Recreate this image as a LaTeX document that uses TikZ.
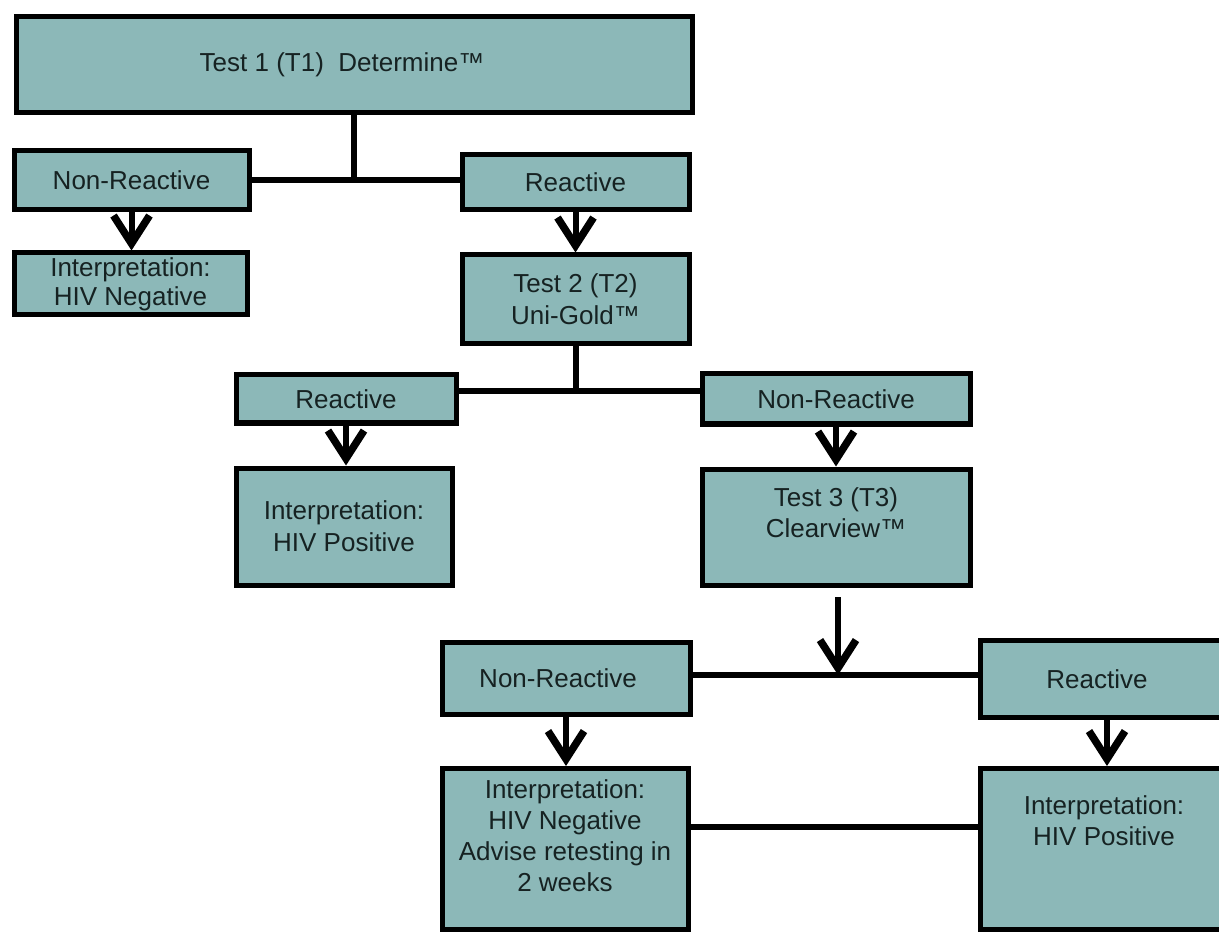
\documentclass[tikz,border=0pt]{standalone}
\usepackage{fontspec}
\setmainfont{Liberation Sans}
\usetikzlibrary{arrows.meta}
\definecolor{boxfill}{RGB}{140,184,184}
\definecolor{ink}{RGB}{22,34,34}
\begin{document}
\begin{tikzpicture}[x=1pt,y=-1pt,
  box/.style={draw=black, line width=5pt, fill=boxfill, align=center, inner sep=0pt,
    font=\fontsize{26}{32}\selectfont, text=ink},
  txt/.style={align=center, inner sep=0pt, font=\fontsize{26}{31}\selectfont, text=ink},
  conn/.style={line width=6pt},
  arr/.style={line width=6pt, -{Straight Barb[length=28pt,width=36pt,line width=7.5pt]}}]
\useasboundingbox (0,0) rectangle (1219,933);
\clip (0,0) rectangle (1219,933);
\fill[white] (0,0) rectangle (1219,933);

\node[box, minimum width=676pt, minimum height=96pt] (t1) at (354,65) {Test 1 (T1)\ \ Determine™\hspace*{24pt}};
\node[box, minimum width=235pt, minimum height=59pt] (nr1) at (131.5,180.5) {Non-Reactive};
\node[box, minimum width=227pt, minimum height=55pt] (r1) at (575.5,182.5) {Reactive};
\node[box, minimum width=233pt, minimum height=62pt, font=\fontsize{26}{29}\selectfont] (i1) at (130.5,284) {Interpretation:\\HIV Negative};
\node[box, minimum width=227pt, minimum height=89pt] (t2) at (575.5,299.5) {Test 2 (T2)\\Uni-Gold™};
\node[box, minimum width=220pt, minimum height=48pt] (r2) at (346,399) {Reactive};
\node[box, minimum width=268pt, minimum height=50pt] (nr2) at (836,399) {Non-Reactive};
\node[box, minimum width=216pt, minimum height=117pt] (i2) at (344,526.5) {Interpretation:\\HIV Positive};
\node[box, minimum width=268pt, minimum height=116pt] (t3) at (836,527) {};
\node[txt] (t3t) at (836,513) {Test 3 (T3)\\Clearview™};
\node[box, minimum width=248pt, minimum height=72pt] (nr3) at (566,678) {Non-Reactive\hspace*{16pt}};
\node[box, minimum width=243pt, minimum height=77pt] (r3) at (1102,679) {Reactive\hspace*{10pt}};
\node[box, minimum width=246pt, minimum height=161pt] (i3n) at (565,849) {};
\node[txt] (i3nt) at (565,836) {Interpretation:\\HIV Negative\\Advise retesting in\\2 weeks};
\node[box, minimum width=243pt, minimum height=161pt] (i3r) at (1102,849) {};
\node[txt] (i3rt) at (1104,821) {Interpretation:\\HIV Positive};

\coordinate (t3a) at (838,597);
\coordinate (r3a) at (1107,720);
\coordinate (j2) at ([yshift=8pt]r2.east);
\coordinate (j3) at ([yshift=3pt]nr3.east);
\coordinate (j4) at ([yshift=22pt]i3n.east);

% level 1
\draw[conn] (t1.south) -- (t1.south |- nr1.east);
\draw[conn] (nr1.east) -- (nr1.east -| r1.west);
\draw[arr] (nr1.south) -- (nr1.south |- i1.north);
\draw[arr] (r1.south) -- (r1.south |- t2.north);
% level 2
\draw[conn] (t2.south) -- (t2.south |- j2);
\draw[conn] (j2) -- (j2 -| nr2.west);
\draw[arr] (r2.south) -- (r2.south |- i2.north);
\draw[arr] (nr2.south) -- (nr2.south |- t3.north);
% level 3
\draw[arr] (t3a) -- (t3a |- j3);
\draw[conn] (j3) -- (j3 -| r3.west);
\draw[arr] (nr3.south) -- (nr3.south |- i3n.north);
\draw[arr] (r3a |- r3.south) -- (r3a |- i3r.north);
\draw[conn] (j4) -- (j4 -| i3r.west);
\end{tikzpicture}
\end{document}
